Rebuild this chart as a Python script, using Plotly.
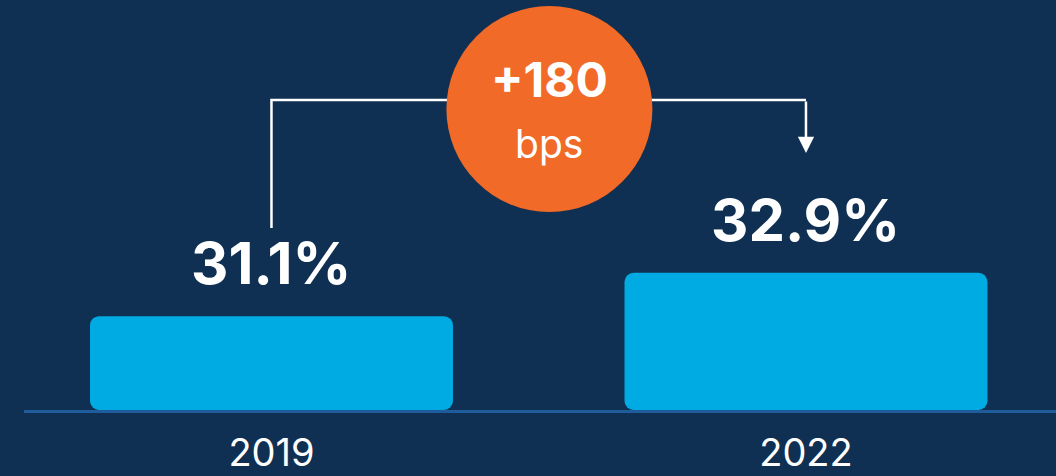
import plotly.graph_objects as go

# ---- data ----
categories = ["2019", "2022"]
values = [31.1, 32.9]
value_labels = ["31.1%", "32.9%"]
change_label = "+180"
change_unit = "bps"

# ---- style ----
BG = "#0f3052"
BAR = "#00abe3"
ORANGE = "#f26a27"
BASELINE = "#1f5c9c"
FONT = "Inter"

W, H = 1056, 476
ML, MR, MT, MB = 24, 0, 0, 66
PW, PH = W - ML - MR, H - MT - MB

AXIS_MIN = 27.2
Y_PX_PER_UNIT = 24.06
AXIS_MAX = AXIS_MIN + PH / Y_PX_PER_UNIT
X_PX_PER_CAT = 534.5
X0 = -0.463
X1 = X0 + PW / X_PX_PER_CAT
BAR_W = 0.679


def ypaper(py):
    # pixel row -> paper fraction (decoration placement)
    return (H - MB - py) / PH


fig = go.Figure()

# bars with an explicit base -> plotly rounds both ends
fig.add_trace(go.Bar(
    x=categories, y=[v - AXIS_MIN for v in values],
    base=[AXIS_MIN] * len(values), width=BAR_W,
    marker=dict(color=BAR, line=dict(width=0)), hoverinfo="skip"))

# value labels (category axis -> use category index)
for i, (v, t) in enumerate(zip(values, value_labels)):
    fig.add_annotation(x=i, y=v, xref="x", yref="y", text=f"<b>{t}</b>",
                       showarrow=False, yanchor="middle", yshift=53,
                       font=dict(family=FONT, size=58, color="white"))

# connectors
circle_x = 0.52
line_y = ypaper(100)
fig.add_shape(type="path", xref="x", yref="paper",
              path=f"M 0,{ypaper(228)} L 0,{line_y} L {circle_x},{line_y}",
              line=dict(color="white", width=2.5), layer="below")
fig.add_shape(type="line", xref="x", yref="paper",
              x0=circle_x, x1=1, y0=line_y, y1=line_y,
              line=dict(color="white", width=2.5), layer="below")
fig.add_annotation(x=1, y=ypaper(153), xref="x", yref="paper",
                   ax=0, ay=-53, text="", showarrow=True,
                   arrowhead=2, arrowsize=1.3, arrowwidth=2.5,
                   arrowcolor="white")

# change bubble
fig.add_shape(type="circle", xref="x", yref="paper",
              xsizemode="pixel", ysizemode="pixel",
              xanchor=circle_x, yanchor=ypaper(109),
              x0=-103, x1=103, y0=-103, y1=103,
              fillcolor=ORANGE, line=dict(width=0), layer="above")
fig.add_annotation(x=circle_x, y=ypaper(80), xref="x", yref="paper",
                   text=f"<b>{change_label}</b>", showarrow=False,
                   yanchor="middle", xanchor="center",
                   font=dict(family=FONT, size=48, color="white"))
fig.add_annotation(x=circle_x, y=ypaper(143), xref="x", yref="paper",
                   text=change_unit, showarrow=False,
                   yanchor="middle", xanchor="center",
                   font=dict(family=FONT, size=39, color="white"))

fig.update_layout(
    width=W, height=H, margin=dict(l=ML, r=MR, t=MT, b=MB),
    paper_bgcolor=BG, plot_bgcolor=BG, showlegend=False,
    barmode="overlay", barcornerradius=9, hovermode=False,
    xaxis=dict(type="category", range=[X0, X1], showgrid=False,
               zeroline=False, showline=True, linecolor=BASELINE,
               linewidth=3, ticks="", automargin=False,
               tickfont=dict(family=FONT, size=38, color="white"),
               ticklabelstandoff=7, fixedrange=True),
    yaxis=dict(range=[AXIS_MIN, AXIS_MAX], visible=False, fixedrange=True,
               automargin=False),
)

fig.write_html("out.html", config={"displayModeBar": False},
               post_script="document.body.style.margin='0';"
                           "document.body.style.background='" + BG + "';")
